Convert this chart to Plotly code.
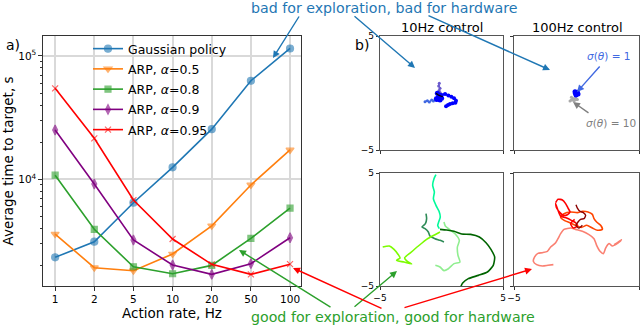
import plotly.graph_objects as go

W, H = 640, 328

# ---- panel a) data ----
rates = ['1', '2', '5', '10', '20', '50', '100']
gaussian = [2330, 3120, 6460, 12500, 25500, 63000, 115000]
arp_05 = [3600, 1920, 1815, 2480, 4200, 9000, 17300]
arp_08 = [10800, 3930, 1955, 1715, 2005, 3320, 5850]
arp_09 = [25100, 9160, 3220, 2020, 1695, 2070, 3360]
arp_095 = [54700, 21500, 6790, 3280, 2045, 1695, 2050]

# ---- panel b) trajectories (x, y in [-5, 5]) ----
# 10Hz, gaussian policy
tl_blue_x = [-0.45, -0.26, 0.01, 0.29, 0.56, 0.80, 1.02, 1.18, 1.13, 0.91, 0.69, 0.53, 0.37]
tl_blue_y = [-0.47, -0.26, -0.18, -0.09, -0.21, -0.32, -0.47, -0.67, -0.85, -0.91, -0.97, -1.05, -1.17]
tl_blue2_x = [-0.34, -0.18, -0.23, -0.39, -0.12, 0.01]
tl_blue2_y = [-0.03, -0.18, -0.38, -0.56, -0.61, -0.47]
tl_slate_x = [-0.18, -0.23, -0.12, -0.20, -0.10, -0.15]
tl_slate_y = [0.85, 0.61, 0.41, 0.21, 0.03, -0.18]
tl_royal_x = [-1.34, -1.15, -0.99, -0.80, -0.66, -0.50, -0.39]
tl_royal_y = [-0.76, -0.67, -0.79, -0.61, -0.70, -0.56, -0.61]
tl_black_x = [-0.45, -0.26, -0.07, 0.10]
tl_black_y = [-0.03, -0.18, -0.26, -0.32]

# 100Hz, gaussian policy
tr_blue_x = [-0.12, 0.01, 0.12, -0.04, -0.09, 0.07]
tr_blue_y = [0.12, 0.03, -0.09, -0.18, -0.03, 0.06]
tr_grey_x = [-0.41, -0.25, -0.07, 0.07, -0.20, -0.41, -0.52]
tr_grey_y = [-0.38, -0.50, -0.47, -0.56, -0.67, -0.61, -0.70]

# 10Hz, ARP
bl_spring_x = [-0.45, -0.61, -0.72, -0.58, -0.66, -0.45, -0.20, -0.10, -0.23, -0.31, -0.18]
bl_spring_y = [4.85, 4.50, 3.91, 3.32, 2.73, 2.14, 1.61, 1.11, 0.66, 0.37, 0.07]
bl_dark_x = [-0.12, 0.42, 1.02, 1.64, 2.37, 3.08, 3.62, 4.02, 4.32, 4.21, 3.73, 3.00, 2.18, 1.72, 1.56]
bl_dark_y = [0.01, -0.05, -0.16, -0.40, -0.43, -0.66, -1.17, -1.76, -2.43, -3.17, -3.76, -4.06, -4.35, -4.74, -5.09]
bl_sea_x = [-1.26, -1.21, -1.31, -1.59, -1.34, -1.07, -0.94, -0.53, -0.12, 0.20]
bl_sea_y = [1.40, 0.96, 0.52, 0.22, 0.07, -0.22, -0.58, -0.81, -0.96, -1.11]
bl_lawn_x = [-4.78, -4.24, -3.86, -3.51, -3.37, -3.65, -3.05, -2.43, -2.78, -3.00, -2.51, -1.88, -1.21, -0.53, -0.12]
bl_lawn_y = [-1.55, -1.46, -1.76, -2.23, -2.52, -2.73, -2.88, -3.05, -2.82, -2.52, -2.05, -1.46, -0.87, -0.46, -0.22]
bl_pale_x = [0.20, 0.31, 0.64, 1.10, 1.45, 1.29, 1.34, 1.50, 1.02, 0.56, 0.20, -0.12, -0.50]
bl_pale_y = [0.66, 0.31, 0.01, -0.37, -0.96, -1.55, -2.29, -2.88, -3.02, -3.47, -3.64, -3.32, -3.17]

# 100Hz, ARP
br_red_x = [-1.67, -1.48, -1.13, -0.87, -0.68, -0.52, -0.73, -1.05, -1.32, -1.59, -1.67, -1.27, -0.79, -0.41, -0.07, 0.07, -0.25, -0.47, -0.15]
br_red_y = [2.37, 2.67, 2.61, 2.29, 1.90, 1.55, 1.31, 1.25, 1.49, 1.90, 2.29, 1.19, 1.02, 0.81, 0.60, 0.31, 0.13, 0.52, 0.90]
br_orange_x = [-1.27, -1.00, -0.47, 0.07, 0.47, 0.92, 1.27, 1.40, 1.61, 1.93, 2.07, 1.67, 1.27, 0.81, 0.39, -0.07, -0.52, -0.95, -1.27]
br_orange_y = [1.11, 1.40, 1.55, 1.49, 1.61, 1.55, 1.34, 0.96, 0.66, 0.37, 0.01, -0.07, 0.13, 0.37, 0.19, 0.37, 0.60, 0.78, 1.11]
br_dark_x = [-0.04, 0.07, 0.28, 0.55, 0.73, 0.60, 0.33, 0.12, -0.04, 0.20, 0.47]
br_dark_y = [2.20, 1.90, 1.61, 1.49, 1.25, 0.96, 0.90, 0.66, 0.37, 0.13, 0.37]
br_salmon_x = [-1.85, -2.28, -2.73, -3.19, -3.45, -3.35, -3.08, -2.73, -2.33, -2.07, -1.67, -1.48, -1.27, -1.00,
               -0.45, -0.07, 0.47, 1.00, 1.40, 1.61, 1.88, 2.15, 2.33, 2.60, 2.87, 3.13, 3.48, 3.59, 3.27, 3.00]
br_salmon_y = [-3.11, -3.17, -3.23, -3.11, -2.82, -2.43, -2.11, -2.05, -1.93, -1.55, -1.17, -0.81, -0.37, 0.01,
               0.13, 0.01, -0.16, -0.46, -0.81, -1.40, -1.93, -2.14, -1.64, -1.25, -1.46, -1.34, -1.05, -0.90, -1.17, -1.34]

FONT = 'DejaVu Sans'


def px(x):
    return x / W


def py(y):
    return 1 - y / H


fig = go.Figure()

series = [
    ('Gaussian policy', gaussian, '#1f77b4', 'circle-cross', 7),
    ('ARP, <i>α</i>=0.5', arp_05, '#ff7f0e', 'triangle-down', 7),
    ('ARP, <i>α</i>=0.8', arp_08, '#2ca02c', 'square', 6),
    ('ARP, <i>α</i>=0.9', arp_09, 'purple', 'diamond-tall', 7),
    ('ARP, <i>α</i>=0.95', arp_095, 'red', 'x-thin', 6),
]
for name, vals, color, sym, size in series:
    fig.add_trace(go.Scatter(
        x=rates, y=vals, name=name, mode='lines+markers', legendgroup=name,
        line=dict(color=color, width=1.6),
        marker=dict(symbol=sym, size=size, color=color, opacity=0.6,
                    line=dict(color=color, width=1.2)),
        xaxis='x', yaxis='y'
    ))

traj = [
    ('x2', 'y2', tl_royal_x, tl_royal_y, 'royalblue', 1.5, 3),
    ('x2', 'y2', tl_slate_x, tl_slate_y, 'slateblue', 1.5, 3),
    ('x2', 'y2', tl_blue_x, tl_blue_y, 'blue', 2, 4),
    ('x2', 'y2', tl_blue2_x, tl_blue2_y, 'blue', 2.5, 5),
    ('x2', 'y2', tl_black_x, tl_black_y, 'black', 1.2, 0),
    ('x3', 'y3', tr_grey_x, tr_grey_y, 'darkgrey', 2, 3),
    ('x3', 'y3', tr_blue_x, tr_blue_y, 'blue', 3, 5),
    ('x4', 'y4', bl_spring_x, bl_spring_y, 'mediumspringgreen', 1.6, 0),
    ('x4', 'y4', bl_pale_x, bl_pale_y, 'lightgreen', 1.6, 0),
    ('x4', 'y4', bl_dark_x, bl_dark_y, 'darkgreen', 1.6, 0),
    ('x4', 'y4', bl_sea_x, bl_sea_y, 'seagreen', 1.6, 0),
    ('x4', 'y4', bl_lawn_x, bl_lawn_y, 'lawngreen', 1.6, 0),
    ('x5', 'y5', br_salmon_x, br_salmon_y, 'salmon', 1.6, 0),
    ('x5', 'y5', br_orange_x, br_orange_y, 'orangered', 1.6, 0),
    ('x5', 'y5', br_red_x, br_red_y, 'red', 1.6, 0),
    ('x5', 'y5', br_dark_x, br_dark_y, 'darkred', 1.4, 0),
]
for xa, ya, xs, ys, color, lw, ms in traj:
    fig.add_trace(go.Scatter(
        x=xs, y=ys, mode='lines+markers' if ms else 'lines',
        line=dict(color=color, width=lw, shape='spline', smoothing=0.6),
        marker=dict(color=color, size=ms),
        showlegend=False, hoverinfo='skip', xaxis=xa, yaxis=ya
    ))

axis_font = dict(family=FONT, size=10.5, color='black')
frame = dict(showline=True, mirror=True, linecolor='#333', linewidth=1.2,
             ticks='outside', ticklen=3.5, tickcolor='#333', zeroline=False)

minor_vals = [m * 10 ** e for e in (3, 4) for m in range(2, 10)]

sub_common = dict(range=[-5, 5], tickvals=[-5, 5], ticktext=['−5', '5'],
                  showgrid=False, zeroline=False, showline=True, mirror=True,
                  linecolor='#555', linewidth=1.2, ticks='outside', ticklen=3,
                  tickcolor='#333', tickfont=dict(family=FONT, size=9, color='black'),
                  fixedrange=True)

col1 = [px(380), px(503)]
col2 = [px(514), px(639)]
row1 = [py(150), py(36)]
row2 = [py(286), py(173)]

fig.update_layout(
    template='none',
    width=W, height=H,
    margin=dict(l=0, r=0, t=0, b=0),
    paper_bgcolor='white', plot_bgcolor='white',
    font=dict(family=FONT, size=12, color='black'),
    showlegend=True,
    legend=dict(x=px(88), y=py(34), xanchor='left', yanchor='top',
                bgcolor='rgba(255,255,255,0)', borderwidth=0,
                font=dict(family=FONT, size=12.5), tracegroupgap=1,
                itemwidth=30),
    xaxis=dict(domain=[px(43), px(301)], type='category', categoryorder='array',
               categoryarray=rates, range=[-0.31, 6.28], anchor='y',
               showgrid=True, gridcolor='#d9d9d9', gridwidth=1.5,
               tickfont=axis_font,
               title=dict(text='Action rate, Hz', font=dict(family=FONT, size=13.5), standoff=4),
               **frame),
    yaxis=dict(domain=[py(286), py(36)], type='log', range=[3.135, 5.162], anchor='x',
               tickvals=[1e4, 1e5], ticktext=['10<sup>4</sup>', '10<sup>5</sup>'],
               showgrid=True, gridcolor='#d9d9d9', gridwidth=1.5,
               tickfont=axis_font,
               minor=dict(tickvals=minor_vals, ticks='outside', ticklen=2,
                          tickcolor='#333', showgrid=False),
               title=dict(text='Average time to target, s', font=dict(family=FONT, size=13.5), standoff=2),
               **frame),
    xaxis2=dict(domain=col1, anchor='y2', showticklabels=False, **sub_common),
    yaxis2=dict(domain=row1, anchor='x2', showticklabels=True, **sub_common),
    xaxis3=dict(domain=col2, anchor='y3', showticklabels=False, **sub_common),
    yaxis3=dict(domain=row1, anchor='x3', showticklabels=False, **sub_common),
    xaxis4=dict(domain=col1, anchor='y4', showticklabels=True, **sub_common),
    yaxis4=dict(domain=row2, anchor='x4', showticklabels=True, **sub_common),
    xaxis5=dict(domain=col2, anchor='y5', showticklabels=True, **sub_common),
    yaxis5=dict(domain=row2, anchor='x5', showticklabels=False, **sub_common),
)

texts = [
    ('a)', 13, 45, 14, 'black'),
    ('b)', 362, 45, 14, 'black'),
    ('10Hz control', 442, 28, 13, 'black'),
    ('100Hz control', 577, 28, 13, 'black'),
    ('bad for exploration, bad for hardware', 384, 8, 14.2, '#1f77b4'),
    ('good for exploration, good for hardware', 393, 317, 14.2, '#2ca02c'),
    ('<i>σ</i>(<i>θ</i>) = 1', 608, 56, 10.5, 'royalblue'),
    ('<i>σ</i>(<i>θ</i>) = 10', 611, 123, 10.5, 'grey'),
]
for t, x, y, s, c in texts:
    fig.add_annotation(text=t, x=px(x), y=py(y), xref='paper', yref='paper',
                       showarrow=False, font=dict(family=FONT, size=s, color=c),
                       xanchor='center', yanchor='middle')

arrows = [
    ((300, 15), (273, 58), '#1f77b4'),
    ((353, 15), (415, 68), '#1f77b4'),
    ((427, 15), (550, 70), '#1f77b4'),
    ((332, 308), (239, 250), '#2ca02c'),
    ((353, 308), (397, 271), '#2ca02c'),
    ((383, 309), (293, 268), 'red'),
    ((403, 308), (532, 269), 'red'),
    ((601, 65), (577, 92), 'royalblue'),
    ((590, 114), (573, 102), 'grey'),
]
for (tx, ty), (hx, hy), c in arrows:
    fig.add_annotation(text='', x=px(hx), y=py(hy), xref='paper', yref='paper',
                       ax=tx - hx, ay=ty - hy, showarrow=True, arrowhead=2,
                       arrowsize=1, arrowwidth=1.4, arrowcolor=c, standoff=0,
                       startstandoff=0)

# the page body has a default margin; drop it so the figure fills the window
fig.write_html("out.html", config={'displayModeBar': False},
               post_script="document.body.style.margin = '0';")
